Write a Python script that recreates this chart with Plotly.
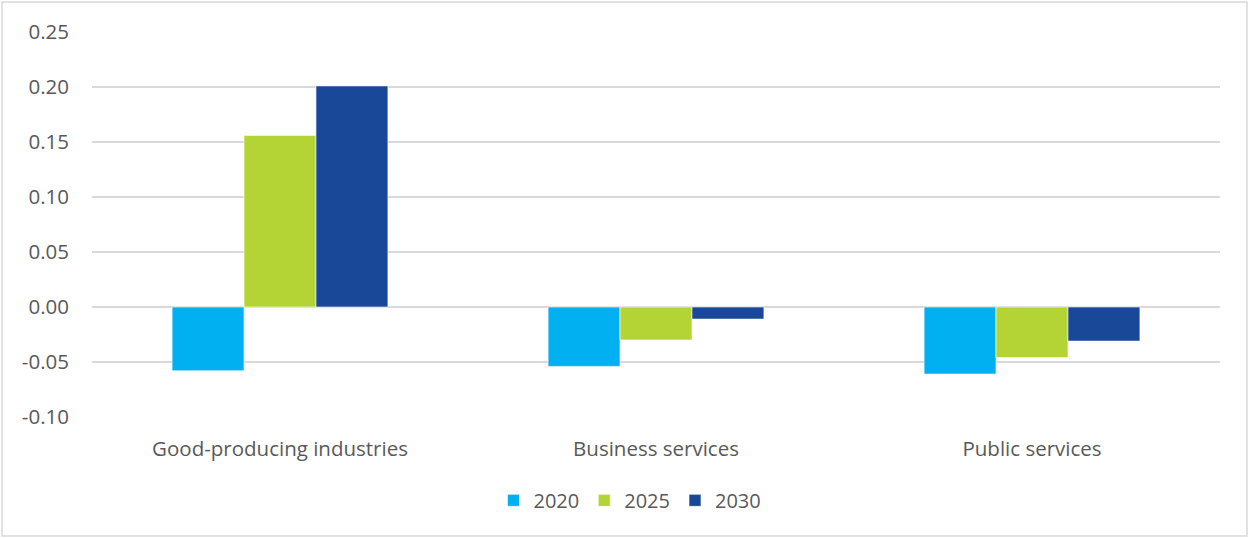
import plotly.graph_objects as go

categories = ["Good-producing industries", "Business services", "Public services"]
years = ["2020", "2025", "2030"]
values_2020 = [-0.058, -0.054, -0.061]
values_2025 = [0.156, -0.030, -0.046]
values_2030 = [0.201, -0.011, -0.031]
colors = ["#00B0F0", "#B4D334", "#1A4899"]
y_ticks = [-0.10, -0.05, 0.00, 0.05, 0.10, 0.15, 0.20, 0.25]
y_tick_labels = ["-0.10", "-0.05", "0.00", "0.05", "0.10", "0.15", "0.20", "0.25"]

W, H = 1250, 538
ML, MR, MT, MB = 92, 30, 32, 121

fig = go.Figure()
for name, vals, col in zip(years, [values_2020, values_2025, values_2030], colors):
    fig.add_trace(go.Bar(
        x=categories, y=vals, name=name,
        marker=dict(color=col, line=dict(color="rgba(255,255,255,0.6)", width=1)),
    ))

font = "Open Sans"
pw = W - ML - MR
ph = H - MT - MB
# light frame around the whole chart
fig.add_shape(type="rect", xref="paper", yref="paper",
              x0=(2 - ML) / pw, x1=(1247 - ML) / pw,
              y0=(H - MB - 536) / ph, y1=(H - MB - 2) / ph,
              line=dict(color="#D9D9D9", width=1.5), fillcolor="rgba(0,0,0,0)", layer="below")

fig.update_layout(
    width=W, height=H,
    margin=dict(l=ML, r=MR, t=MT, b=MB),
    paper_bgcolor="white", plot_bgcolor="white",
    barmode="group", bargap=0.426, bargroupgap=0,
    font=dict(family=font, color="#595959", size=20),
    showlegend=True,
    legend=dict(orientation="h", xref="container", yref="container",
                x=0.504, xanchor="center", y=0.07, yanchor="middle",
                font=dict(size=20, color="#595959"), itemwidth=30,
                traceorder="normal"),
    xaxis=dict(showgrid=False, showline=False, ticks="", tickfont=dict(size=20.5),
               ticklabelstandoff=17),
    yaxis=dict(range=[-0.1, 0.25], tickvals=y_ticks, ticktext=y_tick_labels,
               showgrid=True, gridcolor="#D9D9D9", gridwidth=1.5,
               zeroline=True, zerolinecolor="#D9D9D9", zerolinewidth=1.5,
               showline=False, ticks="", tickfont=dict(size=20.5),
               ticklabelstandoff=22),
)

fig.write_html("out.html")
